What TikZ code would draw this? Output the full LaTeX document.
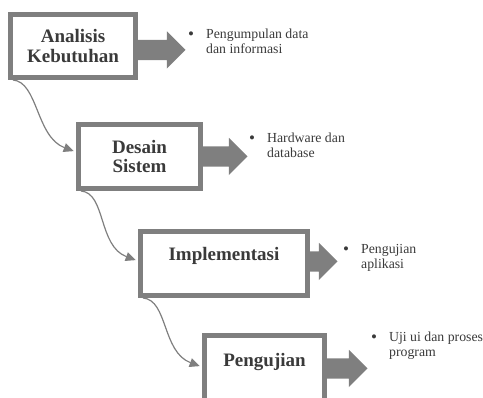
\documentclass[tikz,border=0pt]{standalone}
\usepackage{fontspec}
\setmainfont{Liberation Serif}
\usetikzlibrary{shapes.arrows,arrows.meta}
\definecolor{abu}{HTML}{7F7F7F}
\definecolor{teksabu}{HTML}{3A3A3A}
\newcommand\poin[2]{\begin{tabular}[t]{@{}l@{\hspace{12pt}}l@{}}\raisebox{-0.8pt}{\fontsize{17}{15}\selectfont\textbullet} & #1\\ & #2\end{tabular}}

\tikzset{
    tahap/.style = {draw=abu, line width=5pt, fill=white, align=center, inner sep=0pt,
                    text=teksabu, font=\fontsize{19}{19.5}\selectfont\bfseries},
    panah/.style = {single arrow, fill=abu, draw=none, inner xsep=0pt, inner ysep=10pt, outer sep=0pt,
                    minimum width=37pt, single arrow head extend=8.5pt, anchor=tail},
    alur/.style  = {draw=abu, line width=1.2pt, -{Triangle[length=10pt,width=9pt]}, shorten >=2.5pt},
    ket/.style   = {anchor=base west, inner sep=0pt, text=teksabu, font=\fontsize{13.8}{15}\selectfont}
}

\begin{document}
\begin{tikzpicture}[x=1pt, y=-1pt]
            \path[use as bounding box, clip] (0,0) rectangle (483,398);
            % tahapan
            \node[tahap, minimum width=125pt, minimum height=63pt] (analisis) at (73,46) {Analisis\\Kebutuhan};
            \node[tahap, minimum width=122pt, minimum height=64pt] (desain) at (139.5,156.5) {Desain\\Sistem};
            \node[tahap, minimum width=167pt, minimum height=64pt, text depth=20pt] (implementasi) at (224,263.5) {Implementasi};
            \node[tahap, minimum width=120pt, minimum height=79pt, text depth=31pt] (pengujian) at (264.5,375) {Pengujian};
            % panah blok
            \node[panah, minimum height=47.5pt] (p1) at ([yshift=-4pt]analisis.east) {};
            \node[panah, minimum height=44.5pt] (p2) at (desain.east) {};
            \node[panah, minimum height=27.5pt] (p3) at ([yshift=2pt]implementasi.east) {};
            \node[panah, minimum height=40.5pt] (p4) at ([yshift=6.5pt]pengujian.east) {};
            % keterangan
            \node[ket] (k1) at (188,38.5) {\poin{Pengumpulan data}{dan informasi}};
            \node[ket] (k2) at (249,143) {\poin{Hardware dan}{database}};
            \node[ket] (k3) at (343,254) {\poin{Pengujian}{aplikasi}};
            \node[ket] (k4) at (371,342) {\poin{Uji ui dan proses}{program}};
            % alur
            \draw[alur] ([xshift=5pt]analisis.south west) .. controls +(25,2) and +(-40,-15) .. ([yshift=4.5pt]desain.west);
            \draw[alur] ([xshift=5pt]desain.south west) .. controls +(25,2) and +(-40,-15) .. ([yshift=2.5pt]implementasi.west);
            \draw[alur] ([xshift=5pt]implementasi.south west) .. controls +(25,2) and +(-40,-15) .. ([yshift=8pt]pengujian.west);
        \end{tikzpicture}
\end{document}
